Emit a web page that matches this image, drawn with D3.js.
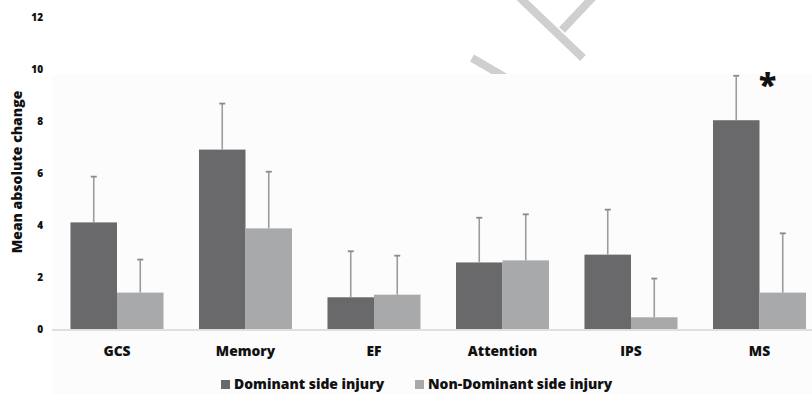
<!DOCTYPE html>
<html>
<head>
<meta charset="utf-8">
<script src="https://cdn.jsdelivr.net/npm/d3@7/dist/d3.min.js"></script>
<style>
  html, body { margin: 0; padding: 0; background: #fff; }
  svg { display: block; }
  text { font-family: "Open Sans", Lato, sans-serif; font-weight: 800; fill: #111; }
</style>
</head>
<body>
<svg id="chart" width="812" height="394"></svg>
<script>
// Cognitive domains and group means with standard deviations
const categories = ["GCS", "Memory", "EF", "Attention", "IPS", "MS"];
const seriesNames = ["Dominant side injury", "Non-Dominant side injury"];
const dominantMean = [4.10, 6.90, 1.22, 2.56, 2.86, 8.03];
const dominantErr = [1.76, 1.77, 1.77, 1.72, 1.73, 1.71];
const nonDominantMean = [1.40, 3.87, 1.32, 2.64, 0.45, 1.40];
const nonDominantErr = [1.27, 2.18, 1.50, 1.77, 1.49, 2.28];
const yTicks = [0, 2, 4, 6, 8, 10, 12];
const significant = ["MS"];

const colors = ["#69696b", "#a8a9ab"];
const font = '"Open Sans", Lato, sans-serif';
const svg = d3.select("#chart");

const y = d3.scaleLinear().domain([0, 12]).range([329, 17]);
const x0 = d3.scaleBand().domain(categories).range([52.75, 823.75])
  .paddingInner(0.276).paddingOuter(0.138);
const x1 = d3.scaleBand().domain(seriesNames).range([0, x0.bandwidth()]);

// faint background strokes in the top margin
const wm = svg.append("g").attr("stroke", "#cfcfcf").attr("stroke-width", 8).attr("fill", "none");
wm.append("line").attr("x1", 472).attr("y1", 58).attr("x2", 510).attr("y2", 80);
wm.append("line").attr("x1", 518).attr("y1", -4).attr("x2", 583).attr("y2", 58);
wm.append("line").attr("x1", 594).attr("y1", -4).attr("x2", 562).attr("y2", 30);

// plot area
svg.append("rect").attr("x", 52).attr("y", 74).attr("width", 760).attr("height", 320)
  .attr("fill", "#fcfcfc");

// y axis labels
const yAxis = d3.axisLeft(y).tickValues(yTicks).tickSize(0).tickPadding(0);
const gy = svg.append("g").attr("transform", "translate(43,0)").call(yAxis);
gy.select(".domain").remove();
gy.selectAll("text").style("font-size", "10px").attr("fill", "#111")
  .style("font-family", font).style("font-weight", 800);

svg.append("text")
  .attr("transform", "translate(22,172) rotate(-90)")
  .attr("text-anchor", "middle")
  .style("font-size", "14px")
  .text("Mean absolute change");

// bars
const data = categories.map((c, i) => ({
  cat: c,
  vals: [
    { s: seriesNames[0], v: dominantMean[i], e: dominantErr[i], k: 0 },
    { s: seriesNames[1], v: nonDominantMean[i], e: nonDominantErr[i], k: 1 }
  ]
}));

const groups = svg.append("g").selectAll("g").data(data).join("g")
  .attr("transform", d => `translate(${x0(d.cat)},0)`);

groups.selectAll("rect").data(d => d.vals).join("rect")
  .attr("x", d => x1(d.s))
  .attr("width", x1.bandwidth())
  .attr("y", d => y(d.v))
  .attr("height", d => y(0) - y(d.v))
  .attr("fill", d => colors[d.k]);

// error bars (upper half)
const eb = groups.selectAll("g.err").data(d => d.vals).join("g").attr("class", "err");
eb.append("line")
  .attr("x1", d => x1(d.s) + x1.bandwidth() / 2)
  .attr("x2", d => x1(d.s) + x1.bandwidth() / 2)
  .attr("y1", d => y(d.v))
  .attr("y2", d => y(d.v + d.e))
  .attr("stroke", "#9c9c9c").attr("stroke-width", 1.6);
eb.append("line")
  .attr("x1", d => x1(d.s) + x1.bandwidth() / 2 - 3)
  .attr("x2", d => x1(d.s) + x1.bandwidth() / 2 + 3)
  .attr("y1", d => y(d.v + d.e))
  .attr("y2", d => y(d.v + d.e))
  .attr("stroke", "#8a8a8a").attr("stroke-width", 1.8);

// baseline
svg.append("line").attr("x1", 52).attr("x2", 812).attr("y1", y(0) + 1).attr("y2", y(0) + 1)
  .attr("stroke", "#d6d6d6").attr("stroke-width", 1.5);

// category labels
const xAxis = d3.axisBottom(x0).tickSize(0).tickPadding(0);
const gx = svg.append("g").attr("transform", `translate(0,${y(0) + 17})`).call(xAxis);
gx.select(".domain").remove();
gx.selectAll("text").style("font-size", "13.8px").attr("fill", "#111")
  .style("font-family", font).style("font-weight", 800);

// significance marker
significant.forEach(c => {
  svg.append("text")
    .attr("x", x0(c) + x0.bandwidth() / 2 + 8)
    .attr("y", 96)
    .attr("text-anchor", "middle")
    .style("font-size", "32px")
    .text("*");
});

// legend
const legendPos = [221, 415];
const lg = svg.append("g").selectAll("g").data(seriesNames).join("g")
  .attr("transform", (d, i) => `translate(${legendPos[i]},0)`);
lg.append("rect").attr("x", 0).attr("y", 380).attr("width", 9).attr("height", 9)
  .attr("fill", (d, i) => colors[i]);
lg.append("text").attr("x", 13).attr("y", 389).style("font-size", "13.9px").text(d => d);
</script>
</body>
</html>
